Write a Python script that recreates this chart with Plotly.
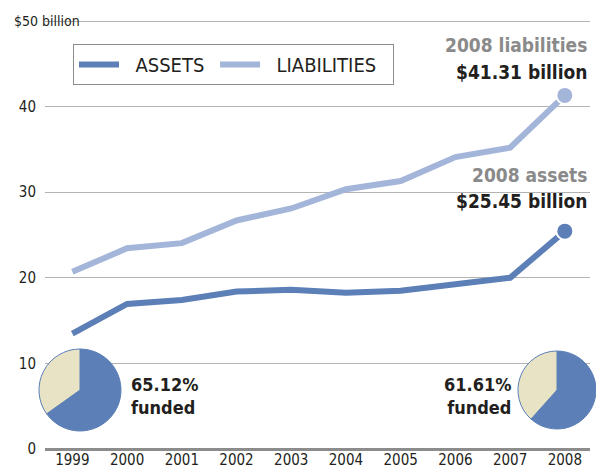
import plotly.graph_objects as go

years = [1999, 2000, 2001, 2002, 2003, 2004, 2005, 2006, 2007, 2008]
assets = [13.48, 16.95, 17.4, 18.4, 18.6, 18.25, 18.5, 19.3, 20.0, 25.45]
liabilities = [20.7, 23.45, 24.05, 26.7, 28.1, 30.35, 31.3, 34.1, 35.2, 41.31]
funded = [65.12, 61.61]
y_ticks = [0, 10, 20, 30, 40, 50]
series_names = ["ASSETS", "LIABILITIES"]

W, H = 596, 475
BLUE = "#5b7fb6"
LIGHT = "#a4b5da"
BEIGE = "#e8e3c4"
DARK = "#231f20"
GRAY = "#8a8a8a"
FONT = "DejaVu Sans Condensed, Liberation Sans Narrow, sans-serif"
NB = "\u00a0"

def px(x):
    return x / W

def py(y):
    return 1 - y / H

fig = go.Figure()
fig.add_trace(go.Scatter(x=years, y=assets, mode="lines", name=NB * 2 + series_names[0] + NB,
                         line=dict(color=BLUE, width=6)))
fig.add_trace(go.Scatter(x=years, y=liabilities, mode="lines", name=NB * 2 + series_names[1] + NB * 2,
                         line=dict(color=LIGHT, width=6)))
fig.add_trace(go.Scatter(x=[years[-1]], y=[assets[-1]], mode="markers", showlegend=False,
                         marker=dict(color=BLUE, size=17, line=dict(color="white", width=2))))
fig.add_trace(go.Scatter(x=[years[-1]], y=[liabilities[-1]], mode="markers", showlegend=False,
                         marker=dict(color=LIGHT, size=17, line=dict(color="white", width=2))))

# funded pies
pie_domains = [dict(x=[px(39), px(121)], y=[py(431), py(349)]),
               dict(x=[px(518), 1.0], y=[py(431), py(349)])]
for f, dom in zip(funded, pie_domains):
    fig.add_trace(go.Pie(values=[f, 100 - f], labels=["funded", "unfunded"],
                         marker=dict(colors=[BLUE, BEIGE], line=dict(color=BLUE, width=1)),
                         sort=False, direction="clockwise", rotation=0,
                         textinfo="none", hoverinfo="skip", showlegend=False,
                         domain=dom))

shapes = [
    # gaps in gridlines behind pies and labels
    dict(type="rect", xref="paper", yref="paper", x0=px(30), x1=px(127), y0=py(440), y1=py(345),
         fillcolor="white", line=dict(width=0), layer="between"),
    dict(type="rect", xref="paper", yref="paper", x0=px(513), x1=1, y0=py(440), y1=py(345),
         fillcolor="white", line=dict(width=0), layer="between"),
    dict(type="rect", xref="paper", yref="paper", x0=px(452), x1=1, y0=py(212), y1=py(163),
         fillcolor="white", line=dict(width=0), layer="between"),
    dict(type="rect", xref="paper", yref="paper", x0=px(30), x1=px(92), y0=py(28), y1=py(12),
         fillcolor="white", line=dict(width=0), layer="between"),
]

annotations = [
    dict(text="$50 billion", x=px(12), y=py(21), xref="paper", yref="paper",
         xanchor="left", yanchor="middle", showarrow=False,
         font=dict(family=FONT, size=14, color=DARK)),
    dict(text="2008 liabilities", x=px(589), y=py(45), xref="paper", yref="paper",
         xanchor="right", yanchor="middle", showarrow=False,
         font=dict(family=FONT, size=19, color=GRAY, weight="bold")),
    dict(text="$41.31 billion", x=px(589), y=py(72), xref="paper", yref="paper",
         xanchor="right", yanchor="middle", showarrow=False,
         font=dict(family=FONT, size=19, color=DARK, weight="bold")),
    dict(text="2008 assets", x=px(589), y=py(175), xref="paper", yref="paper",
         xanchor="right", yanchor="middle", showarrow=False,
         font=dict(family=FONT, size=19, color=GRAY, weight="bold")),
    dict(text="$25.45 billion", x=px(589), y=py(201), xref="paper", yref="paper",
         xanchor="right", yanchor="middle", showarrow=False,
         font=dict(family=FONT, size=19, color=DARK, weight="bold")),
    dict(text=f"{funded[0]:.2f}%<br>funded", x=px(129), y=py(396), xref="paper", yref="paper",
         xanchor="left", yanchor="middle", align="left", showarrow=False,
         font=dict(family=FONT, size=18, color=DARK, weight="bold")),
    dict(text=f"{funded[1]:.2f}%<br>funded", x=px(513), y=py(396), xref="paper", yref="paper",
         xanchor="right", yanchor="middle", align="right", showarrow=False,
         font=dict(family=FONT, size=18, color=DARK, weight="bold")),
]

fig.update_layout(
    width=W, height=H,
    margin=dict(l=0, r=0, t=0, b=0),
    paper_bgcolor="white", plot_bgcolor="white",
    font=dict(family=FONT, color=DARK),
    showlegend=True,
    legend=dict(orientation="h", x=px(73), y=py(44), xanchor="left", yanchor="top",
                bordercolor="#8c8c8c", borderwidth=1, bgcolor="white",
                font=dict(family=FONT, size=20, color=DARK),
                itemwidth=40, tracegroupgap=0),
    xaxis=dict(domain=[px(45), px(590)], range=[1998.5, 2008.46],
               tickvals=years, ticktext=[str(y) for y in years],
               showgrid=False, zeroline=False, showline=False, ticks="",
               tickfont=dict(family=FONT, size=15, color=DARK), automargin=False),
    yaxis=dict(domain=[py(449), py(19.3)], range=[0, 50.2],
               tickvals=y_ticks, ticktext=[str(t) for t in y_ticks[:-1]] + [""],
               showgrid=True, gridcolor="#b3b3b3", gridwidth=1,
               zeroline=True, zerolinecolor="#8c8c8c", zerolinewidth=3,
               showline=False, ticks="", ticklabelstandoff=8,
               tickfont=dict(family=FONT, size=15, color=DARK), automargin=False),
    shapes=shapes,
    annotations=annotations,
)

fig.write_html("out.html", config={"displayModeBar": False},
               post_script="document.body.style.margin='0';document.body.style.overflow='hidden';")
